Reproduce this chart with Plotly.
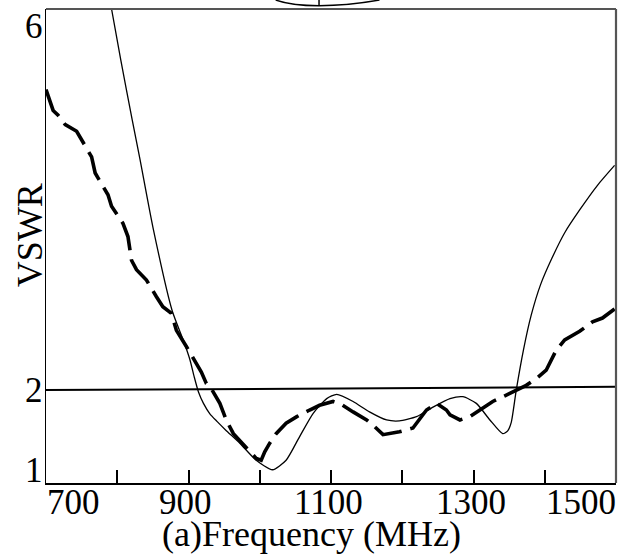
import plotly.graph_objects as go

# ---------------- data ----------------
sim_freq = [792, 805, 821, 832, 850, 877, 893, 902, 908, 914, 921, 930, 940, 952, 972, 995, 1018,
            1037, 1056, 1075, 1094, 1108, 1131, 1154, 1178, 1196, 1220, 1243, 1267, 1285, 1304,
            1323, 1341, 1348, 1353, 1360, 1370, 1381, 1394, 1410, 1428, 1449, 1474, 1498]
sim_vswr = [6.0, 5.46, 4.83, 4.41, 3.70, 2.82, 2.50, 2.30, 2.12, 1.96, 1.84, 1.73, 1.65, 1.56, 1.42,
            1.24, 1.14, 1.24, 1.49, 1.735, 1.89, 1.935, 1.86, 1.75, 1.665, 1.655, 1.70, 1.80, 1.89,
            1.91, 1.84, 1.665, 1.52, 1.55, 1.64, 1.98, 2.40, 2.77, 3.09, 3.37, 3.64, 3.88, 4.14, 4.35]

meas_freq = [700, 710, 717, 727, 743, 755, 764, 769, 780, 787, 792, 801, 808, 815, 820, 827,
             841, 855, 864, 876, 883, 897, 918, 925, 930, 944, 953, 963, 981, 995, 1002, 1007,
             1014, 1023, 1037, 1052, 1070, 1084, 1103, 1112, 1131, 1150, 1159, 1173, 1196,
             1215, 1234, 1248, 1262, 1267, 1281, 1295, 1309, 1327, 1344, 1360, 1374, 1388,
             1402, 1416, 1428, 1449, 1467, 1481, 1498]
meas_vswr = [5.15, 4.93, 4.88, 4.78, 4.71, 4.55, 4.44, 4.27, 4.14, 4.04, 3.92, 3.81, 3.74, 3.60,
             3.35, 3.25, 3.14, 2.965, 2.86, 2.79, 2.61, 2.44, 2.17, 2.05, 2.02, 1.84, 1.665,
             1.52, 1.37, 1.26, 1.24, 1.33, 1.42, 1.52, 1.63, 1.70, 1.77, 1.82, 1.86, 1.84,
             1.75, 1.665, 1.61, 1.51, 1.54, 1.58, 1.77, 1.84, 1.77, 1.72, 1.665, 1.70, 1.77,
             1.86, 1.92, 1.98, 2.03, 2.10, 2.19, 2.40, 2.51, 2.60, 2.70, 2.74, 2.835]

ref_freq = [700, 1500]
ref_vswr = [1.98, 2.015]

x_tick_vals = [800, 900, 1000, 1100, 1200, 1300, 1400]
x_label_vals = [700, 900, 1100, 1300, 1500]
y_label_vals = [6, 2, 1]

x_title = "(a)Frequency (MHz)"
y_title = "VSWR"

FONT = "Liberation Serif"
XMIN, XMAX = 700, 1500
YMIN, YMAX = 1, 6

fig = go.Figure()
fig.add_trace(go.Scatter(x=ref_freq, y=ref_vswr, mode="lines",
                         line=dict(color="black", width=2), showlegend=False))
fig.add_trace(go.Scatter(x=sim_freq, y=sim_vswr, mode="lines",
                         line=dict(color="black", width=1.3, shape="spline", smoothing=0.6),
                         showlegend=False))
fig.add_trace(go.Scatter(x=meas_freq, y=meas_vswr, mode="lines",
                         line=dict(color="black", width=3.6, dash="30px,9px"),
                         showlegend=False))

annotations = []
for v in x_label_vals:
    if v == XMIN:
        anchor, shift = "left", -1
    elif v == XMAX:
        anchor, shift = "right", 2
    else:
        anchor, shift = "center", -3
    annotations.append(dict(x=(v - XMIN) / (XMAX - XMIN), y=0, xref="paper", yref="paper",
                            text=str(v), showarrow=False, xanchor=anchor, yanchor="top",
                            xshift=shift, yshift=2, font=dict(family=FONT, size=35, color="black")))
for v in y_label_vals:
    if v == YMAX:
        anchor, shift = "top", 4
    elif v == YMIN:
        anchor, shift = "bottom", -9
    else:
        anchor, shift = "middle", -2
    annotations.append(dict(x=0, y=(v - YMIN) / (YMAX - YMIN), xref="paper", yref="paper",
                            text=str(v), showarrow=False, xanchor="right", yanchor=anchor,
                            xshift=-1, yshift=shift, font=dict(family=FONT, size=35, color="black")))
annotations.append(dict(x=0.466, y=-0.108, xref="paper", yref="paper", text=x_title,
                        showarrow=False, xanchor="center", yanchor="middle",
                        font=dict(family=FONT, size=36, color="black")))
annotations.append(dict(x=-0.028, y=0.523, xref="paper", yref="paper", text=y_title,
                        showarrow=False, xanchor="center", yanchor="middle", textangle=-90,
                        font=dict(family=FONT, size=36, color="black")))

shapes = [
    dict(type="line", xref="paper", yref="paper", x0=0, x1=1, y0=1, y1=1,
         line=dict(color="#555555", width=2.2)),
    dict(type="line", xref="paper", yref="paper", x0=1, x1=1, y0=0, y1=1,
         line=dict(color="#555555", width=2.2)),
    # cut-off fragment of the drawing above the chart
    dict(type="path", xref="paper", yref="paper",
         path="M 0.403,1.019 Q 0.43,1.007 0.479,1.007 Q 0.53,1.007 0.585,1.019",
         line=dict(color="black", width=1.5)),
    dict(type="line", xref="paper", yref="paper", x0=0.479, x1=0.479, y0=1.007, y1=1.019,
         line=dict(color="black", width=1.5)),
]

fig.update_layout(
    width=630, height=554,
    margin=dict(l=46, r=14, t=9, b=71),
    paper_bgcolor="white", plot_bgcolor="white",
    showlegend=False,
    annotations=annotations,
    shapes=shapes,
    xaxis=dict(range=[XMIN, XMAX], showgrid=False, zeroline=False,
               showline=True, linecolor="black", linewidth=1.5,
               ticks="inside", tickvals=x_tick_vals, ticklen=13, tickwidth=1.5,
               tickcolor="black", showticklabels=False),
    yaxis=dict(range=[YMIN, YMAX], showgrid=False, zeroline=False,
               showline=True, linecolor="black", linewidth=1.3,
               ticks="", showticklabels=False),
)

fig.write_html("out.html", config={"displayModeBar": False},
               post_script="document.body.style.margin='0';document.body.style.overflow='hidden';")
